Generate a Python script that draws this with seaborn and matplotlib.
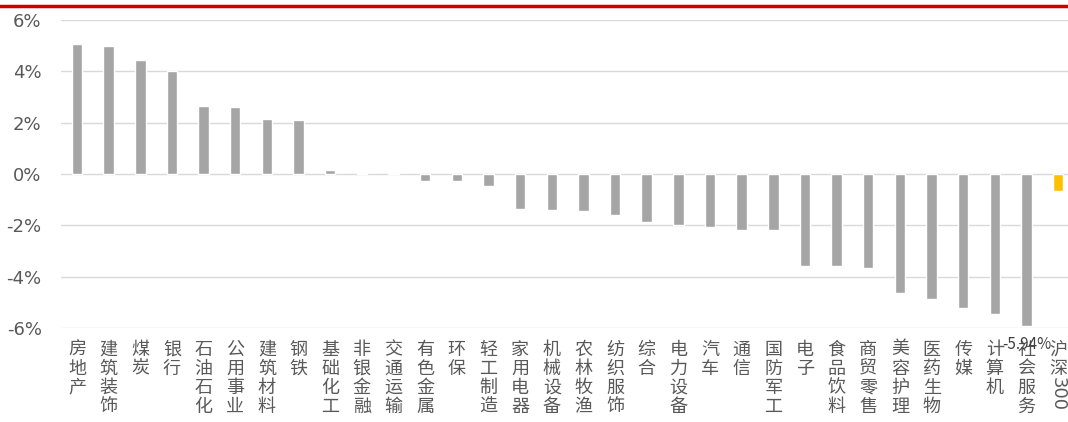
import matplotlib
matplotlib.use("Agg")
import matplotlib.pyplot as plt
from matplotlib.lines import Line2D
import matplotlib.transforms as mtransforms
import seaborn as sns
import pandas as pd

categories = ["房地产", "建筑装饰", "煤炭", "银行", "石油石化", "公用事业", "建筑材料", "钢铁",
              "基础化工", "非银金融", "交通运输", "有色金属", "环保", "轻工制造", "家用电器",
              "机械设备", "农林牧渔", "纺织服饰", "综合", "电力设备", "汽车", "通信", "国防军工",
              "电子", "食品饮料", "商贸零售", "美容护理", "医药生物", "传媒", "计算机", "社会服务",
              "沪深300"]
values = [5.06, 4.99, 4.44, 4.01, 2.65, 2.61, 2.14, 2.10,
          0.16, 0.03, 0.03, -0.27, -0.27, -0.47, -1.35,
          -1.40, -1.43, -1.61, -1.87, -1.98, -2.05, -2.17, -2.20,
          -3.57, -3.57, -3.65, -4.65, -4.86, -5.23, -5.47, -5.94,
          -0.66]
yticks = [6, 4, 2, 0, -2, -4, -6]
annot_label = "-5.94%"

sns.set_theme(style="white")
plt.rcParams['font.family'] = ['Noto Sans CJK SC', 'DejaVu Sans']

gray = "#A5A5A5"
gold = "#FFC000"
txt = "#595959"

df = pd.DataFrame({"cat": categories, "val": values})
palette = {c: (gold if c == "沪深300" else gray) for c in categories}

fig = plt.figure(figsize=(10.68, 4.22), dpi=100)
n = len(categories)
unit = 31.65
left_px, right_px = 77 - unit / 2, 1068
top_px, bot_px = 20, 328
ax = fig.add_axes([left_px / 1068, 1 - bot_px / 422, (right_px - left_px) / 1068, (bot_px - top_px) / 422])

sns.barplot(data=df, x="cat", y="val", hue="cat", palette=palette, legend=False,
            width=0.33, ax=ax, saturation=1)

ax.set_xlim(-0.5, -0.5 + (right_px - left_px) / unit)
ax.set_ylim(-6, 6)
ax.set_yticks(yticks)
ax.set_yticklabels([f"{t}%" for t in yticks], fontsize=13, color=txt, family=['DejaVu Sans'])
ax.yaxis.grid(True, color="#D9D9D9", linewidth=1)
ax.set_axisbelow(True)
for s in ax.spines.values():
    s.set_visible(False)
ax.tick_params(axis="y", length=0, pad=14)
ax.tick_params(axis="x", length=0, pad=9)
ax.set_xlabel("")
ax.set_ylabel("")

labels = []
for c in categories:
    if c == "沪深300":
        labels.append("沪\n深")
    else:
        labels.append("\n".join(list(c)))
ax.set_xticks(range(n))
ax.set_xticklabels(labels, fontsize=13, color=txt, linespacing=1.08, va="top")

# rotated "300" under 沪深
trans = mtransforms.blended_transform_factory(ax.transData, fig.transFigure)
ax.text(n - 1, 1 - 377 / 422, "300", transform=trans, rotation=-90, ha="center", va="top",
        fontsize=13, color=txt, family=['DejaVu Sans'])

# data label for 社会服务
idx = categories.index("社会服务")
ax.annotate(annot_label, xy=(idx, values[idx]), xytext=(0, -13), textcoords="offset points",
            ha="center", va="center", fontsize=11, color="#404040", annotation_clip=False)

# red top line
fig.add_artist(Line2D([0, 1], [1 - 5.5 / 422, 1 - 5.5 / 422], transform=fig.transFigure,
                      color="#D00000", linewidth=2.5))

fig.savefig("out.png", dpi=100)
